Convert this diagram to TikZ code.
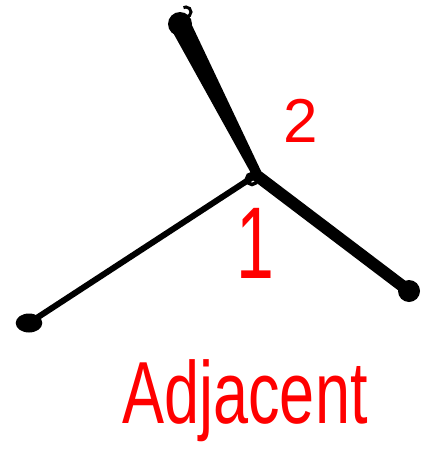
\documentclass[tikz,border=0pt]{standalone}
\usepackage{fontspec}
\setmainfont{Liberation Sans}
\begin{document}
\begin{tikzpicture}[x=1pt,y=-1pt,
  lbl/.style={text=red, inner sep=0pt},
  edge/.style={line cap=round, black},
  endpt/.style={ellipse, fill=black, inner sep=0pt}]
\useasboundingbox (0,0) rectangle (425,455);
\coordinate (c) at (256,175);
\node[circle, fill=black, minimum size=24pt, inner sep=0pt] (t) at (180,24) {};
\node[circle, fill=black, minimum size=22pt, inner sep=0pt] (r) at (409,291) {};
\node[circle, fill=black, minimum size=19pt, inner sep=0pt, xscale=1.4] (l) at (29,323) {};
\fill (171,29) -- (189,19) -- (261,171) -- (252,175) -- cycle;
\draw[edge, line width=12pt] (c) -- (r.center);
\draw[edge, line width=6pt] (c) -- (l.center);
\draw[line width=3.5pt] (252,179) circle (5.5pt);
\draw[line width=3pt] (186,17) arc (-90:120:5pt);
\node[lbl, font=\fontsize{62}{62}\selectfont] (n2) at (301,121) {2};
\node[lbl, font=\fontsize{68}{68}\selectfont] (n1) at (255,243) {\scalebox{1}[1.5]{1}};
\node[lbl, font=\fontsize{63}{63}\selectfont] (adj) at (245,401) {\scalebox{1}[1.4]{Adjacent}};
\end{tikzpicture}
\end{document}
